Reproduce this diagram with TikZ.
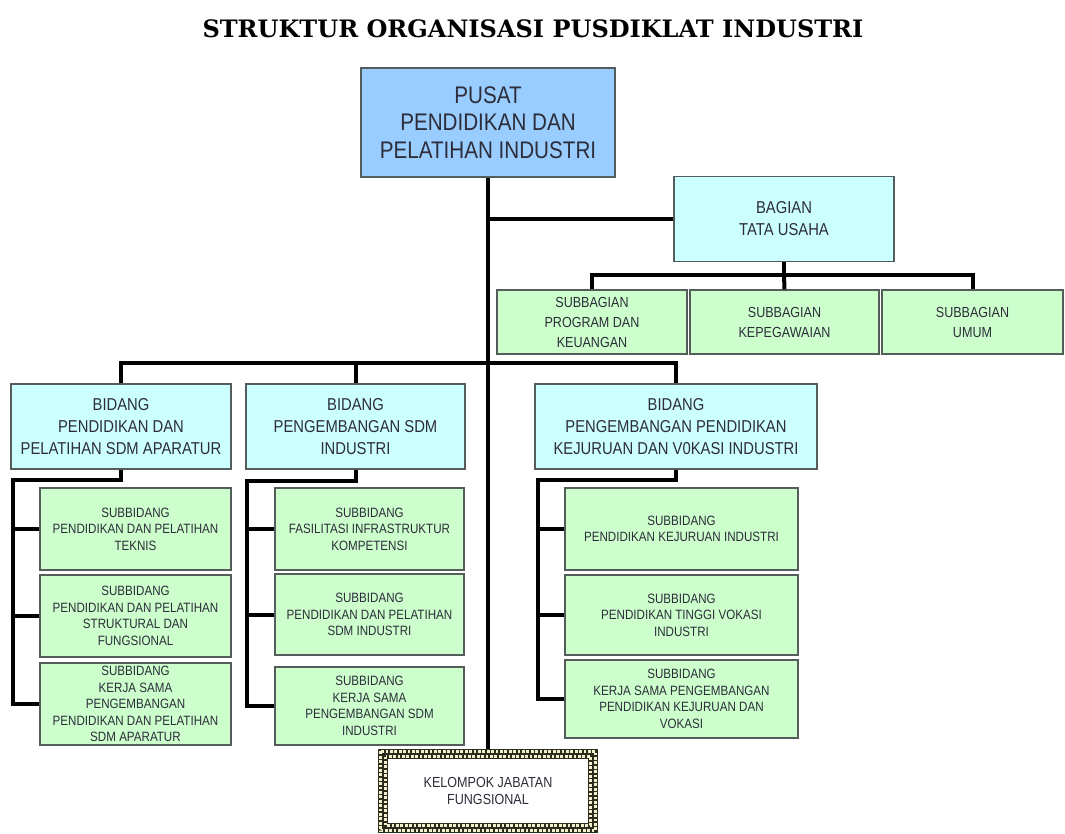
\documentclass[tikz,border=0pt]{standalone}
\usepackage{fontspec}
\usetikzlibrary{calc}
\newfontfamily\orgfont[FakeStretch=0.86]{Liberation Sans}
\newfontfamily\judulfont{DejaVu Serif}
\definecolor{biru}{RGB}{153,204,255}
\definecolor{biruMuda}{RGB}{204,255,255}
\definecolor{hijauMuda}{RGB}{204,255,204}
\definecolor{tepi}{RGB}{85,92,92}
\definecolor{teks}{RGB}{45,45,58}
\definecolor{krem}{RGB}{242,240,205}
\definecolor{gelap}{RGB}{45,45,30}

\tikzset{
  kotak/.style={draw=tepi, line width=1.3pt, align=center, inner sep=1pt, text=teks},
  pusat/.style={kotak, fill=biru, minimum width=254pt, minimum height=109pt, font=\orgfont\fontsize{24}{27.5}\selectfont},
  unit/.style={kotak, fill=biruMuda, minimum height=85pt, font=\orgfont\fontsize{17.2}{22}\selectfont},
  subbagian/.style={kotak, fill=hijauMuda, minimum height=64pt, font=\orgfont\fontsize{14.6}{20}\selectfont},
  subbidang/.style={kotak, fill=hijauMuda, font=\orgfont\fontsize{13.5}{16.5}\selectfont},
  kelompok/.style={draw=gelap, line width=10pt, fill=white, outer sep=0pt, align=center, text=teks,
    minimum width=210pt, minimum height=74pt, font=\orgfont\fontsize{14.6}{17}\selectfont},
  judul/.style={font=\judulfont\bfseries\fontsize{24}{28}\selectfont},
  garis/.style={line width=4pt, black}
}

\begin{document}
\begin{tikzpicture}[x=1pt,y=-1pt]
\fill[white] (0,0) rectangle (1065,833);
\node[judul] (judul) at (533,29) {STRUKTUR ORGANISASI PUSDIKLAT INDUSTRI};
\node[pusat] (pusat) at (488,122.5) {PUSAT\\PENDIDIKAN DAN\\PELATIHAN INDUSTRI};
\node[unit, minimum width=220pt] (tu) at (784,219) {BAGIAN\\TATA USAHA};
\node[subbagian, minimum width=190pt] (sbg1) at (592,322) {SUBBAGIAN\\PROGRAM DAN\\KEUANGAN};
\node[subbagian, minimum width=189pt] (sbg2) at (784.5,322) {SUBBAGIAN\\KEPEGAWAIAN};
\node[subbagian, minimum width=181pt] (sbg3) at (972.5,322) {SUBBAGIAN\\UMUM};

\node[unit, minimum width=220pt] (bid1) at (121,426.5) {BIDANG\\PENDIDIKAN DAN\\PELATIHAN SDM APARATUR};
\node[unit, minimum width=219pt] (bid2) at (355.5,426.5) {BIDANG\\PENGEMBANGAN SDM\\INDUSTRI};
\node[unit, minimum width=282pt] (bid3) at (676,426.5) {BIDANG\\PENGEMBANGAN PENDIDIKAN\\KEJURUAN DAN V0KASI INDUSTRI};

\node[subbidang, minimum width=191pt, minimum height=82pt] (s11) at (135.5,529) {SUBBIDANG\\PENDIDIKAN DAN PELATIHAN\\TEKNIS};
\node[subbidang, minimum width=191pt, minimum height=82pt] (s12) at (135.5,616) {SUBBIDANG\\PENDIDIKAN DAN PELATIHAN\\STRUKTURAL DAN\\FUNGSIONAL};
\node[subbidang, minimum width=191pt, minimum height=82pt] (s13) at (135.5,704) {SUBBIDANG\\KERJA SAMA\\PENGEMBANGAN\\PENDIDIKAN DAN PELATIHAN\\SDM APARATUR};

\node[subbidang, minimum width=189pt, minimum height=82pt] (s21) at (369.5,529) {SUBBIDANG\\FASILITASI INFRASTRUKTUR\\KOMPETENSI};
\node[subbidang, minimum width=189pt, minimum height=81pt] (s22) at (369.5,614.5) {SUBBIDANG\\PENDIDIKAN DAN PELATIHAN\\SDM INDUSTRI};
\node[subbidang, minimum width=189pt, minimum height=78pt] (s23) at (369.5,706) {SUBBIDANG\\KERJA SAMA\\PENGEMBANGAN SDM\\INDUSTRI};

\node[subbidang, minimum width=233pt, minimum height=82pt] (s31) at (681.5,529) {SUBBIDANG\\PENDIDIKAN KEJURUAN INDUSTRI};
\node[subbidang, minimum width=233pt, minimum height=80pt] (s32) at (681.5,615) {SUBBIDANG\\PENDIDIKAN TINGGI VOKASI\\INDUSTRI};
\node[subbidang, minimum width=233pt, minimum height=78pt] (s33) at (681.5,699) {SUBBIDANG\\KERJA SAMA PENGEMBANGAN\\PENDIDIKAN KEJURUAN DAN\\VOKASI};

\node[kelompok] (kel) at (488,791) {KELOMPOK JABATAN\\FUNGSIONAL};

% garis komando
\draw[garis] (pusat.south) -- ($(kel.north)+(0,-5)$);
\draw[garis] (pusat.south |- tu.west) -- (tu.west);
\coordinate (barSub) at (784,275);
\draw[garis] (tu.south) -- (barSub);
\draw[garis] (sbg1.north) |- (barSub) -| (sbg3.north);
\draw[garis] (sbg2.north) -- (barSub);
\coordinate (barBid) at (488,363);
\draw[garis] (bid1.north) |- (barBid) -| (bid3.north);
\draw[garis] (bid2.north) -- (bid2.north |- barBid);
\coordinate (k1) at (13,480);
\coordinate (k2) at (247,481);
\coordinate (k3) at (538,480);
\foreach \i in {1,2,3}{
  \draw[garis] (bid\i.south) |- (k\i) |- (s\i3.west);
  \draw[garis] (k\i) |- (s\i1.west) (k\i) |- (s\i2.west);
}
% bingkai kotak-kotak
\foreach \d in {-2.6,2.6}
  \draw[krem, line width=2.8pt, dash pattern=on 2.8pt off 1.6pt] ($(kel.north west)+(-\d,-\d)$) rectangle ($(kel.south east)+(\d,\d)$);
\end{tikzpicture}
\end{document}
